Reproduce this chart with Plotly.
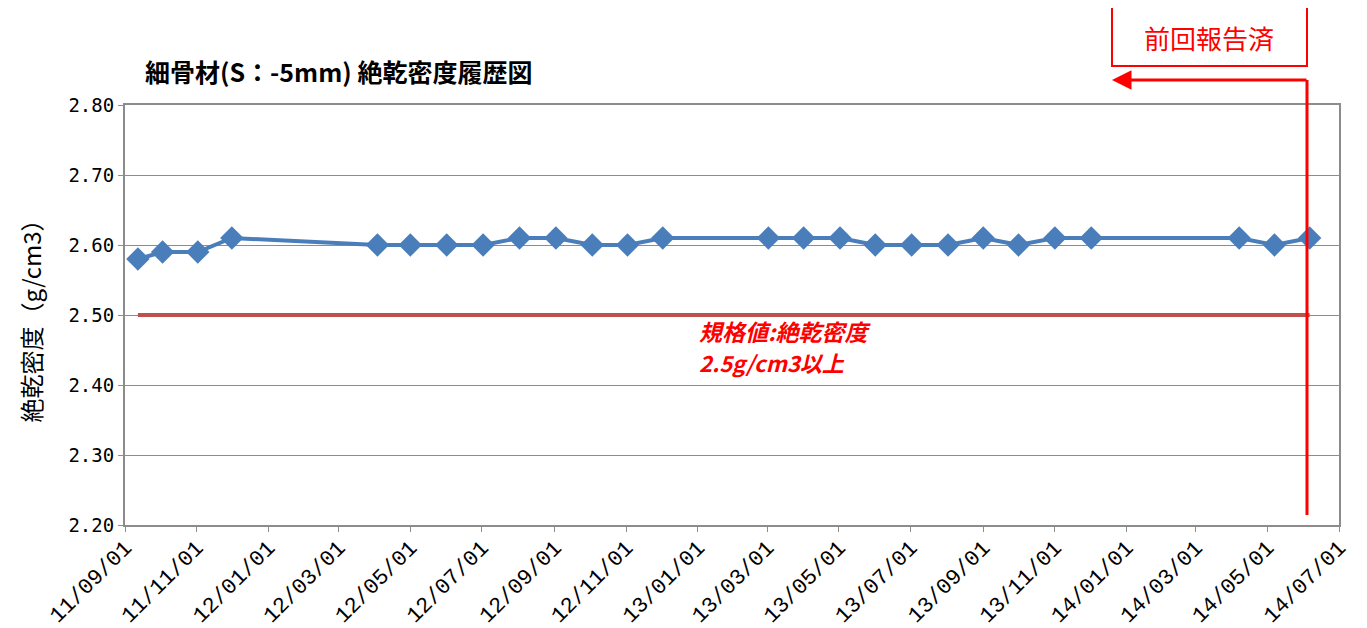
import plotly.graph_objects as go

# === DATA ===
dates = [
    "2011-09-12", "2011-10-03", "2011-11-02", "2011-12-01",
    "2012-04-03", "2012-05-01", "2012-06-01", "2012-07-02", "2012-08-02",
    "2012-09-02", "2012-10-03", "2012-11-02", "2012-12-02",
    "2013-03-02", "2013-04-01", "2013-05-02", "2013-06-01", "2013-07-02",
    "2013-08-02", "2013-09-01", "2013-10-01", "2013-11-01", "2013-12-02",
    "2014-04-07", "2014-05-07", "2014-06-06",
]
density = [
    2.58, 2.59, 2.59, 2.61,
    2.60, 2.60, 2.60, 2.60, 2.61,
    2.61, 2.60, 2.60, 2.61,
    2.61, 2.61, 2.61, 2.60, 2.60,
    2.60, 2.61, 2.60, 2.61, 2.61,
    2.61, 2.60, 2.61,
]
spec_dates = [dates[0], dates[-1]]
spec_values = [2.50, 2.50]

y_ticks = [2.20, 2.30, 2.40, 2.50, 2.60, 2.70, 2.80]
x_range = ["2011-09-01", "2014-07-01"]

# === CONFIG ===
# page has an 8px body margin, so the figure sits at (8, 8)
OFF = 8
W, H = 1359, 620
PL, PR, PT, PB = 125, 1339, 105, 525          # plot area in page pixels
L, T = PL - OFF, PT - OFF
R, B = OFF + W - PR, OFF + H - PB

def px(x):
    return (x - PL) / (PR - PL)

def py(y):
    return (PB - y) / (PB - PT)

blue = "#4A7EBB"
spec_red = "#C0504D"
red = "#FF0000"
grid = "#8C8C8C"
jp = "Noto Sans CJK JP"

# === PLOT ===
fig = go.Figure()
fig.add_trace(go.Scatter(x=spec_dates, y=spec_values, mode="lines",
                         line=dict(color=spec_red, width=4), showlegend=False))
fig.add_trace(go.Scatter(x=dates, y=density, mode="lines+markers",
                         line=dict(color=blue, width=4),
                         marker=dict(symbol="diamond", size=18, color=blue),
                         showlegend=False))

# === LAYOUT ===
fig.update_layout(
    width=W, height=H,
    margin=dict(l=L, r=R, t=T, b=B),
    paper_bgcolor="white", plot_bgcolor="white",
    title=dict(text="<b>細骨材(S：-5mm) 絶乾密度履歴図</b>", x=px(145), xref="paper",
               xanchor="left", y=1 - (73 - OFF) / H, yanchor="middle",
               font=dict(family=jp, size=25, color="black")),
    xaxis=dict(type="date", range=x_range, dtick="M2", tick0="2011-09-01",
               tickformat="%y/%m/%d", tickangle=-45,
               tickfont=dict(family="Liberation Mono", size=22, color="black"),
               ticklabelstandoff=-6,
               showgrid=False, showline=True, linecolor=grid, linewidth=2,
               mirror=True, ticks="outside", ticklen=5, tickcolor=grid,
               automargin=False),
    yaxis=dict(range=[2.2, 2.8], tickvals=y_ticks,
               ticktext=[f"{v:.2f}" for v in y_ticks],
               tickfont=dict(family="DejaVu Sans Mono", size=19, color="black"),
               title=dict(text="絶乾密度（g/cm3）", standoff=20,
                          font=dict(family=jp, size=24, color="black")),
               showgrid=True, gridcolor=grid, gridwidth=1,
               showline=True, linecolor=grid, linewidth=2, mirror=True,
               ticks="outside", ticklen=5, tickcolor=grid, zeroline=False,
               automargin=False),
    shapes=[
        dict(type="rect", xref="paper", yref="paper",
             x0=px(1112), x1=px(1307), y0=py(66), y1=py(4),
             line=dict(color=red, width=2), fillcolor="white"),
        dict(type="line", xref="paper", yref="paper",
             x0=px(1307), x1=px(1307), y0=py(515), y1=py(80),
             line=dict(color=red, width=3)),
    ],
    annotations=[
        dict(xref="paper", yref="paper", x=px(1209), y=py(38),
             xanchor="center", yanchor="middle",
             text="前回報告済", showarrow=False,
             font=dict(family=jp, size=26, color=red)),
        dict(xref="paper", yref="paper", x=px(1112), y=py(80),
             ax=196, ay=0, axref="pixel", ayref="pixel",
             text="", showarrow=True, arrowhead=2, arrowsize=1.3,
             arrowwidth=3, arrowcolor=red),
        dict(xref="paper", yref="paper", x=px(697), y=py(331),
             xanchor="left", yanchor="middle",
             text="<b><i>規格値:絶乾密度</i></b>", showarrow=False,
             font=dict(family=jp, size=23, color=red)),
        dict(xref="paper", yref="paper", x=px(697), y=py(362),
             xanchor="left", yanchor="middle",
             text="<b><i>2.5g/cm3以上</i></b>", showarrow=False,
             font=dict(family=jp, size=22, color=red)),
    ],
)

fig.write_html("out.html")
